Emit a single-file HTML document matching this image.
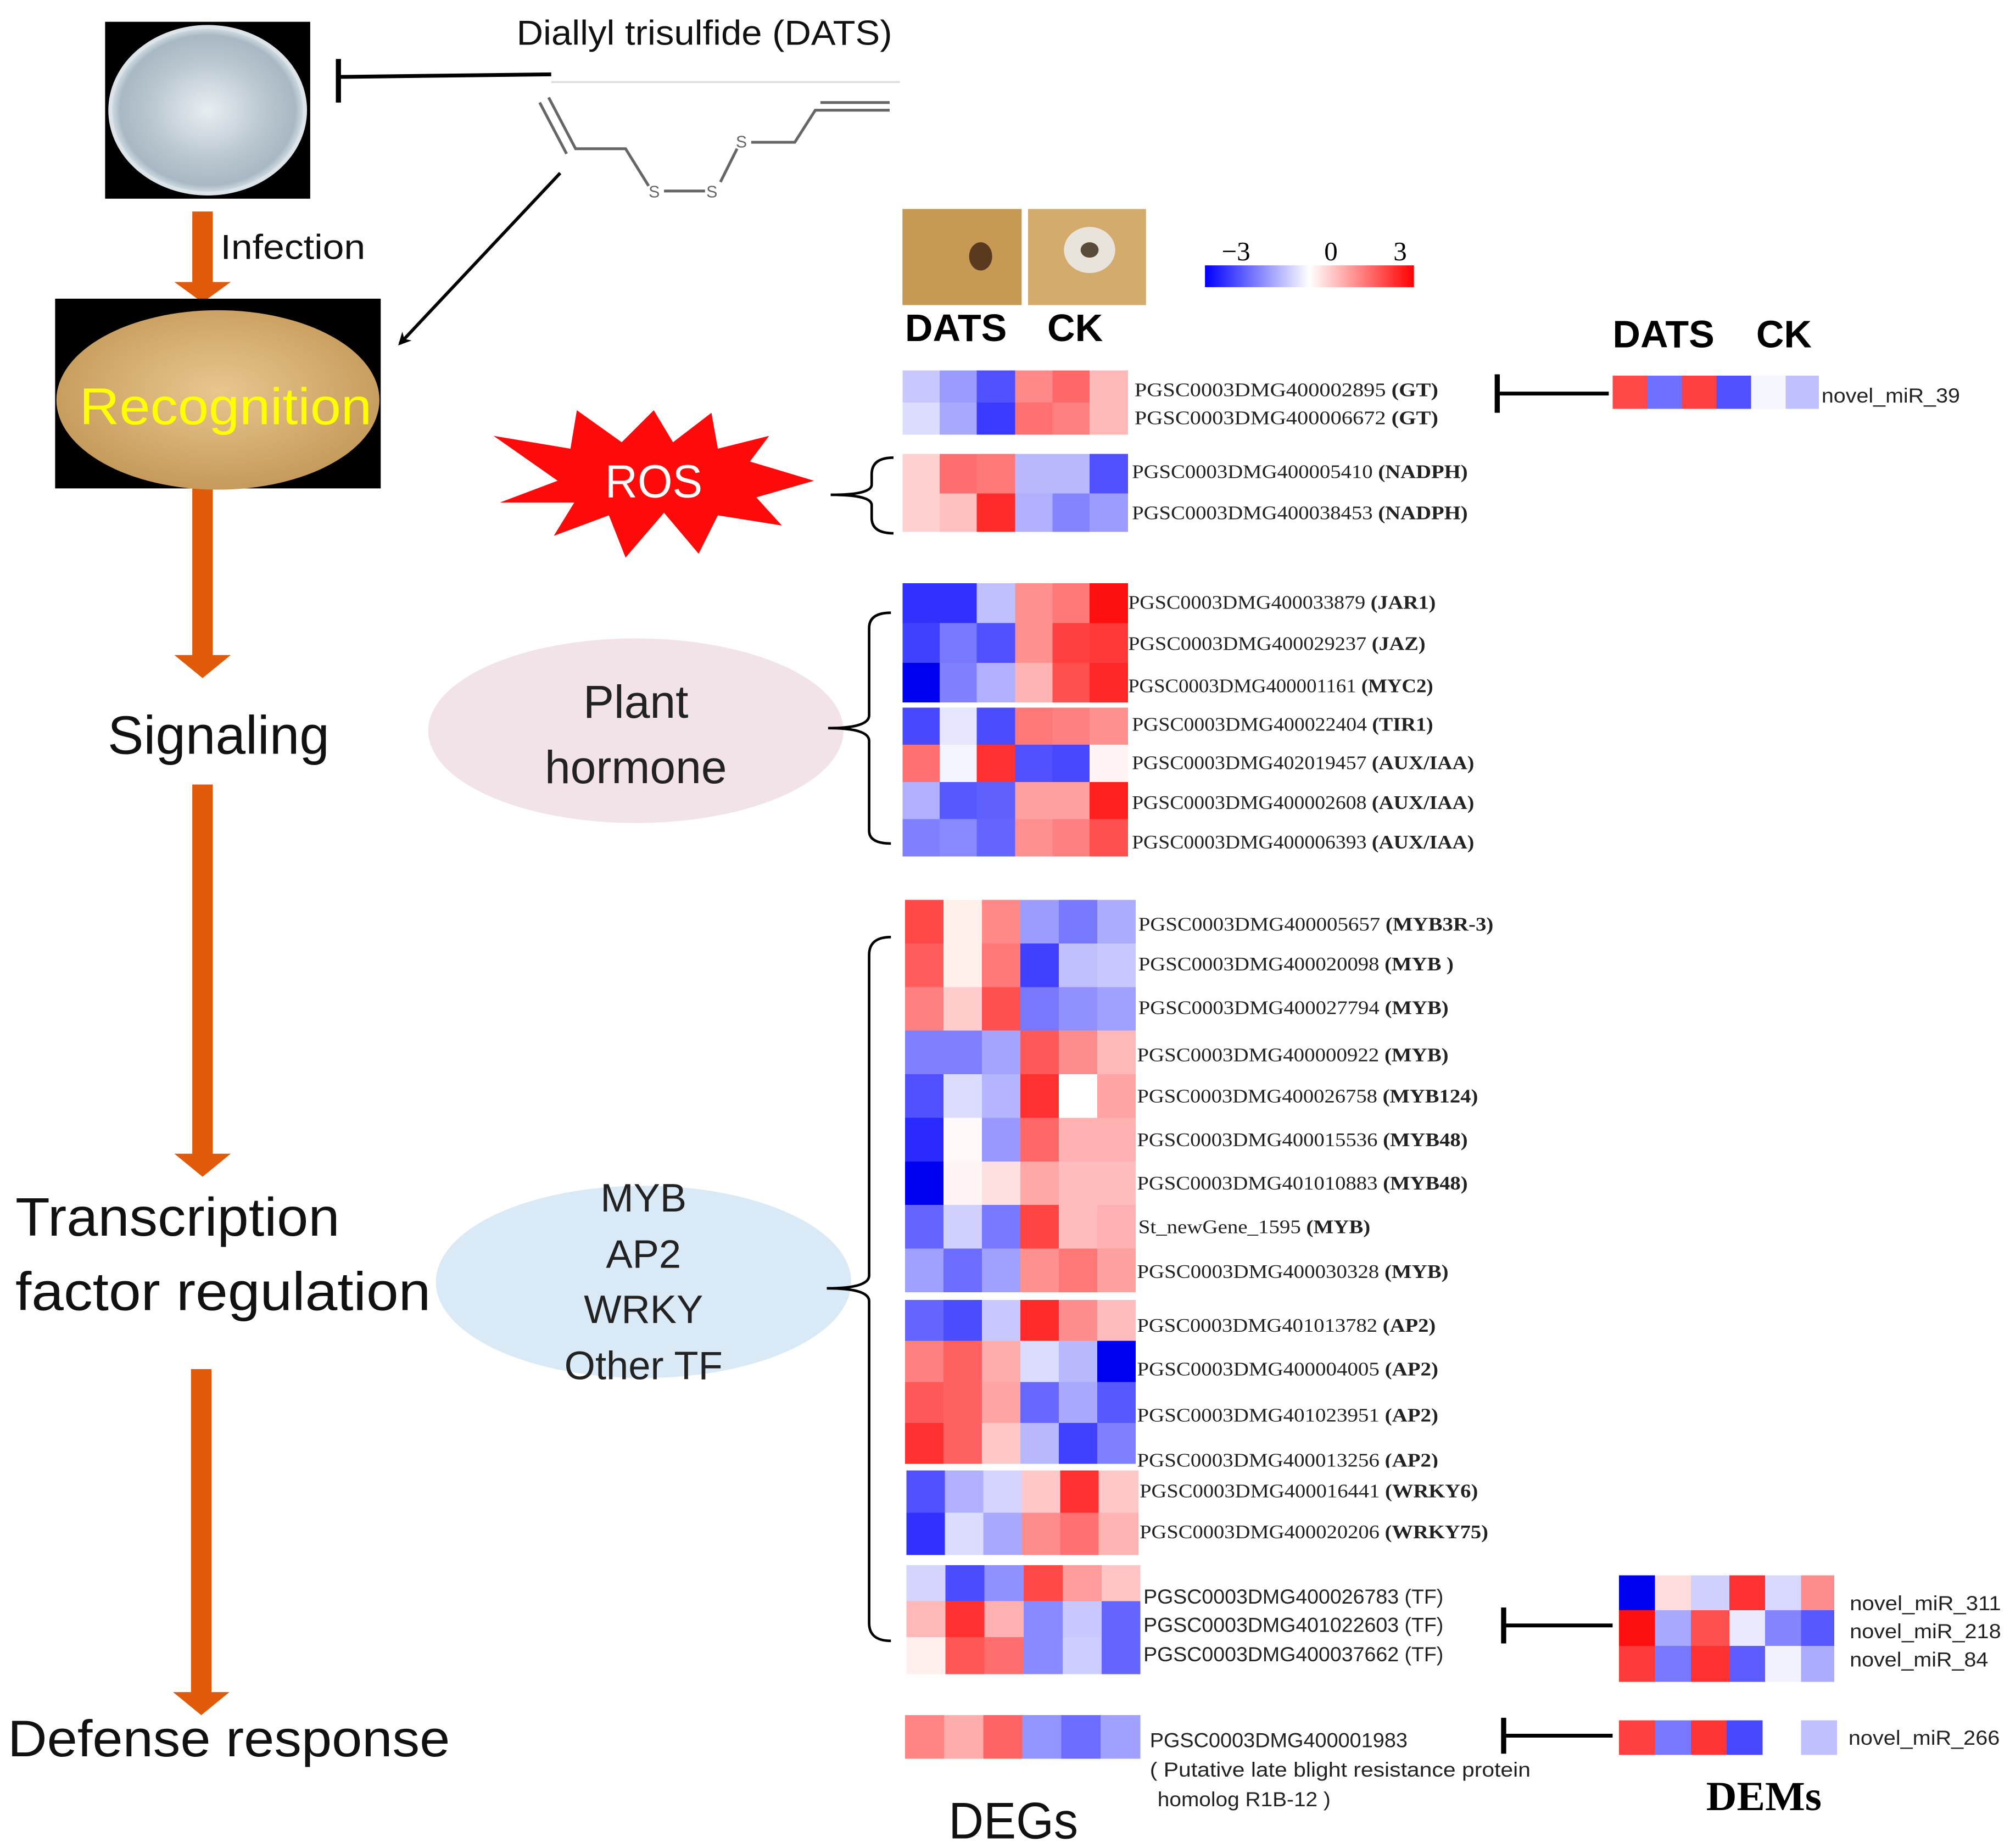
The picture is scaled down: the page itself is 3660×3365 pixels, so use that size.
<!DOCTYPE html>
<html><head><meta charset="utf-8"><style>html,body{margin:0;padding:0;background:#fff}svg{display:block}</style></head>
<body>
<svg width="3660" height="3365" viewBox="0 0 1568 1441.6" xmlns="http://www.w3.org/2000/svg" preserveAspectRatio="none">
<defs>
<linearGradient id="cb" x1="0" x2="1"><stop offset="0" stop-color="#0000ff"/><stop offset="0.5" stop-color="#ffffff"/><stop offset="1" stop-color="#ff0000"/></linearGradient>
<radialGradient id="dish" cx="0.5" cy="0.5" r="0.5"><stop offset="0" stop-color="#e8eef2"/><stop offset="0.6" stop-color="#b9c6cf"/><stop offset="0.9" stop-color="#a8b8c4"/><stop offset="1" stop-color="#d8e2e8"/></radialGradient>
<radialGradient id="pot" cx="0.5" cy="0.45" r="0.55"><stop offset="0" stop-color="#e9c68e"/><stop offset="1" stop-color="#c59a5a"/></radialGradient>
<marker id="ah" markerWidth="10" markerHeight="10" refX="8" refY="5" orient="auto" markerUnits="userSpaceOnUse"><path d="M0,0 L10,5 L0,10 L3,5 Z" fill="#000"/></marker>
</defs>
<rect width="1568" height="1442" fill="#fff"/>

<!-- petri dish -->
<rect x="82" y="17" width="160" height="138" fill="#000"/>
<ellipse cx="162" cy="86" rx="76" ry="65" fill="url(#dish)" stroke="#dce4ea" stroke-width="3"/>
<!-- orange arrows -->
<g fill="#e05a0a">
<path d="M150,165 h16 v55 h14 l-22,16 l-22,-16 h14 z"/>
<path d="M150,381 h16 v130 h14 l-22,18 l-22,-18 h14 z"/>
<path d="M150,612 h16 v288 h14 l-22,18 l-22,-18 h14 z"/>
<path d="M149,1068 h16 v252 h14 l-22,18 l-22,-18 h14 z"/>
</g>
<text x="172" y="202" font-family="Liberation Sans, sans-serif" font-size="27" fill="#111" textLength="113" lengthAdjust="spacingAndGlyphs">Infection</text>
<!-- potato -->
<rect x="43" y="233" width="254" height="148" fill="#000"/>
<ellipse cx="170" cy="312" rx="126" ry="70" fill="url(#pot)"/>
<text x="62" y="331" font-family="Liberation Sans, sans-serif" font-size="40" fill="#ffff00" textLength="228" lengthAdjust="spacingAndGlyphs">Recognition</text>
<g font-family="Liberation Sans, sans-serif" font-size="42" fill="#111">
<text x="84" y="588" textLength="173" lengthAdjust="spacingAndGlyphs">Signaling</text>
<text x="12" y="964" textLength="253" lengthAdjust="spacingAndGlyphs">Transcription</text>
<text x="12" y="1022" textLength="324" lengthAdjust="spacingAndGlyphs">factor regulation</text>
<text x="6" y="1370" font-size="40" textLength="345" lengthAdjust="spacingAndGlyphs">Defense response</text>
</g>

<!-- DATS -->
<text x="403" y="35" font-family="Liberation Sans, sans-serif" font-size="27" fill="#111" textLength="293" lengthAdjust="spacingAndGlyphs">Diallyl trisulfide (DATS)</text>
<line x1="264" y1="60" x2="430" y2="58" stroke="#000" stroke-width="3"/>
<line x1="264" y1="46" x2="264" y2="80" stroke="#000" stroke-width="4"/>
<line x1="430" y1="64" x2="702" y2="64" stroke="#ddd" stroke-width="1.5"/>
<g stroke="#666" stroke-width="2.2" fill="none">
<polyline points="428,76 449,116 488,116 506,145"/>
<line x1="421" y1="80" x2="442" y2="120"/>
<line x1="518" y1="149" x2="550" y2="149"/>
<line x1="562" y1="142" x2="575" y2="116"/>
<polyline points="586,111 620,111 636,86 694,86"/>
<line x1="640" y1="80" x2="694" y2="80"/>
</g>
<g font-family="Liberation Sans, sans-serif" font-size="13" fill="#666">
<text x="506" y="154">S</text><text x="551" y="154">S</text><text x="574" y="115">S</text>
</g>
<line x1="437" y1="135" x2="312" y2="268" stroke="#000" stroke-width="2.5" marker-end="url(#ah)"/>

<!-- ROS star -->
<polygon fill="#ff0a0a" points="385,340 445,350 450,320 485,345 510,320 525,345 555,322 560,350 600,340 585,360 635,375 590,388 610,410 560,402 545,432 518,400 488,435 475,402 432,418 448,392 390,392 435,375" />
<text x="472" y="388" font-family="Liberation Sans, sans-serif" font-size="36" fill="#fff" textLength="76" lengthAdjust="spacingAndGlyphs">ROS</text>
<!-- ellipses -->
<ellipse cx="496" cy="570" rx="162" ry="72" fill="#f1e3e8"/>
<text x="496" y="560" text-anchor="middle" font-family="Liberation Sans, sans-serif" font-size="36" fill="#222">Plant</text>
<text x="496" y="611" text-anchor="middle" font-family="Liberation Sans, sans-serif" font-size="36" fill="#222">hormone</text>
<ellipse cx="502" cy="1000" rx="162" ry="75" fill="#d9e9f6"/>
<g text-anchor="middle" font-family="Liberation Sans, sans-serif" font-size="31" fill="#222">
<text x="502" y="945">MYB</text><text x="502" y="989">AP2</text><text x="502" y="1032">WRKY</text><text x="502" y="1076">Other TF</text>
</g>
<!-- brackets -->
<g stroke="#000" stroke-width="2" fill="none">
<path d="M697,357 Q680,357 680,370 V378 Q680,386 648,386 Q680,386 680,394 V404 Q680,416 697,416"/>
<path d="M695,478 Q678,478 678,490 V558 Q678,568 646,568 Q678,568 678,578 V648 Q678,658 695,658"/>
<path d="M695,731 Q678,731 678,745 V995 Q678,1005 645,1005 Q678,1005 678,1015 V1266 Q678,1280 695,1280"/>
</g>

<!-- photos -->
<rect x="704" y="163" width="93" height="75" fill="#c69a55"/>
<ellipse cx="765" cy="200" rx="9" ry="11" fill="#5a3a1e"/>
<rect x="802" y="163" width="92" height="75" fill="#d2ab6d"/>
<ellipse cx="850" cy="195" rx="20" ry="18" fill="#e8e4dc"/>
<ellipse cx="850" cy="195" rx="7" ry="6" fill="#5a4a3a"/>
<g font-family="Liberation Sans, sans-serif" font-size="30" font-weight="bold" fill="#000">
<text x="706" y="266">DATS</text><text x="817" y="266">CK</text>
<text x="1258" y="271">DATS</text><text x="1370" y="271">CK</text>
</g>
<rect x="940" y="207" width="163" height="17" fill="url(#cb)"/>
<g font-family="Liberation Serif, serif" font-size="21" fill="#000">
<text x="953" y="203">−3</text><text x="1033" y="203">0</text><text x="1087" y="203">3</text>
</g>

<!-- heatmaps -->
<g shape-rendering="crispEdges">
<!-- GT -->
<g transform="translate(704,289)">
<rect x="0" width="30" height="25" fill="#c8c8ff"/><rect x="29" width="30" height="25" fill="#9a9aff"/><rect x="58" width="30" height="25" fill="#5050ff"/><rect x="88" width="30" height="25" fill="#ff8888"/><rect x="117" width="30" height="25" fill="#ff6868"/><rect x="146" width="30" height="25" fill="#ffb8b8"/>
<rect x="0" y="25" width="30" height="25" fill="#dcdcff"/><rect x="29" y="25" width="30" height="25" fill="#a8a8ff"/><rect x="58" y="25" width="30" height="25" fill="#3a3aff"/><rect x="88" y="25" width="30" height="25" fill="#ff7070"/><rect x="117" y="25" width="30" height="25" fill="#ff8080"/><rect x="146" y="25" width="30" height="25" fill="#ffb8b8"/>
</g>
<!-- NADPH -->
<g transform="translate(704,354)">
<rect x="0" width="30" height="31" fill="#ffd0d0"/><rect x="29" width="30" height="31" fill="#ff6e6e"/><rect x="58" width="30" height="31" fill="#ff7878"/><rect x="88" width="30" height="31" fill="#b8b8ff"/><rect x="117" width="30" height="31" fill="#b8b8ff"/><rect x="146" width="30" height="31" fill="#5050ff"/>
<rect x="0" y="31" width="30" height="30" fill="#ffd0d0"/><rect x="29" y="31" width="30" height="30" fill="#ffc0c0"/><rect x="58" y="31" width="30" height="30" fill="#ff2a2a"/><rect x="88" y="31" width="30" height="30" fill="#b0b0ff"/><rect x="117" y="31" width="30" height="30" fill="#8484ff"/><rect x="146" y="31" width="30" height="30" fill="#9c9cff"/>
</g>
<!-- JA -->
<g transform="translate(704,455)">
<rect x="0" width="30" height="31" fill="#3030ff"/><rect x="29" width="30" height="31" fill="#3030ff"/><rect x="58" width="30" height="31" fill="#c0c0ff"/><rect x="88" width="30" height="31" fill="#ff9090"/><rect x="117" width="30" height="31" fill="#ff7878"/><rect x="146" width="30" height="31" fill="#ff1010"/>
<rect x="0" y="31" width="30" height="31" fill="#4040ff"/><rect x="29" y="31" width="30" height="31" fill="#7878ff"/><rect x="58" y="31" width="30" height="31" fill="#5050ff"/><rect x="88" y="31" width="30" height="31" fill="#ff9090"/><rect x="117" y="31" width="30" height="31" fill="#ff4040"/><rect x="146" y="31" width="30" height="31" fill="#ff3838"/>
<rect x="0" y="62" width="30" height="31" fill="#0000f0"/><rect x="29" y="62" width="30" height="31" fill="#8080ff"/><rect x="58" y="62" width="30" height="31" fill="#b0b0ff"/><rect x="88" y="62" width="30" height="31" fill="#ffb4b4"/><rect x="117" y="62" width="30" height="31" fill="#ff5050"/><rect x="146" y="62" width="30" height="31" fill="#ff2828"/>
</g>
<g transform="translate(704,552)">
<rect x="0" width="30" height="29" fill="#4848ff"/><rect x="29" width="30" height="29" fill="#e6e6ff"/><rect x="58" width="30" height="29" fill="#4c4cff"/><rect x="88" width="30" height="29" fill="#ff7878"/><rect x="117" width="30" height="29" fill="#ff8080"/><rect x="146" width="30" height="29" fill="#ff9090"/>
<rect x="0" y="29" width="30" height="29" fill="#ff7070"/><rect x="29" y="29" width="30" height="29" fill="#f4f4ff"/><rect x="58" y="29" width="30" height="29" fill="#ff3030"/><rect x="88" y="29" width="30" height="29" fill="#5050ff"/><rect x="117" y="29" width="30" height="29" fill="#4848ff"/><rect x="146" y="29" width="30" height="29" fill="#fff4f4"/>
<rect x="0" y="58" width="30" height="29" fill="#b0b0ff"/><rect x="29" y="58" width="30" height="29" fill="#5858ff"/><rect x="58" y="58" width="30" height="29" fill="#6060ff"/><rect x="88" y="58" width="30" height="29" fill="#ffa0a0"/><rect x="117" y="58" width="30" height="29" fill="#ffa0a0"/><rect x="146" y="58" width="30" height="29" fill="#ff2020"/>
<rect x="0" y="87" width="30" height="29" fill="#8080ff"/><rect x="29" y="87" width="30" height="29" fill="#8888ff"/><rect x="58" y="87" width="30" height="29" fill="#6464ff"/><rect x="88" y="87" width="30" height="29" fill="#ff9090"/><rect x="117" y="87" width="30" height="29" fill="#ff8080"/><rect x="146" y="87" width="30" height="29" fill="#ff5050"/>
</g>
<!-- MYB -->
<g transform="translate(706,702)">
<rect x="0" y="0" width="30" height="34" fill="#ff4848"/><rect x="30" y="0" width="30" height="34" fill="#fff0ec"/><rect x="60" y="0" width="30" height="34" fill="#ff8888"/><rect x="90" y="0" width="30" height="34" fill="#9c9cff"/><rect x="120" y="0" width="30" height="34" fill="#7878ff"/><rect x="150" y="0" width="30" height="34" fill="#acacff"/>
<rect x="0" y="34" width="30" height="34" fill="#ff5c5c"/><rect x="30" y="34" width="30" height="34" fill="#fff0ec"/><rect x="60" y="34" width="30" height="34" fill="#ff7878"/><rect x="90" y="34" width="30" height="34" fill="#4040ff"/><rect x="120" y="34" width="30" height="34" fill="#c0c0ff"/><rect x="150" y="34" width="30" height="34" fill="#c8c8ff"/>
<rect x="0" y="68" width="30" height="34" fill="#ff8080"/><rect x="30" y="68" width="30" height="34" fill="#ffcccc"/><rect x="60" y="68" width="30" height="34" fill="#ff5050"/><rect x="90" y="68" width="30" height="34" fill="#7878ff"/><rect x="120" y="68" width="30" height="34" fill="#9090ff"/><rect x="150" y="68" width="30" height="34" fill="#a0a0ff"/>
<rect x="0" y="102" width="30" height="34" fill="#8080ff"/><rect x="30" y="102" width="30" height="34" fill="#8080ff"/><rect x="60" y="102" width="30" height="34" fill="#a4a4ff"/><rect x="90" y="102" width="30" height="34" fill="#ff5858"/><rect x="120" y="102" width="30" height="34" fill="#ff8c8c"/><rect x="150" y="102" width="30" height="34" fill="#ffb8b8"/>
<rect x="0" y="136" width="30" height="34" fill="#5050ff"/><rect x="30" y="136" width="30" height="34" fill="#dcdcff"/><rect x="60" y="136" width="30" height="34" fill="#b4b4ff"/><rect x="90" y="136" width="30" height="34" fill="#ff3030"/><rect x="120" y="136" width="30" height="34" fill="#ffffff"/><rect x="150" y="136" width="30" height="34" fill="#ffa4a4"/>
<rect x="0" y="170" width="30" height="34" fill="#2828ff"/><rect x="30" y="170" width="30" height="34" fill="#fff8f8"/><rect x="60" y="170" width="30" height="34" fill="#9898ff"/><rect x="90" y="170" width="30" height="34" fill="#ff6868"/><rect x="120" y="170" width="30" height="34" fill="#ffb0b0"/><rect x="150" y="170" width="30" height="34" fill="#ffb0b0"/>
<rect x="0" y="204" width="30" height="34" fill="#0000f0"/><rect x="30" y="204" width="30" height="34" fill="#fff4f4"/><rect x="60" y="204" width="30" height="34" fill="#ffe0e0"/><rect x="90" y="204" width="30" height="34" fill="#ffa8a8"/><rect x="120" y="204" width="30" height="34" fill="#ffbcbc"/><rect x="150" y="204" width="30" height="34" fill="#ffbcbc"/>
<rect x="0" y="238" width="30" height="34" fill="#6464ff"/><rect x="30" y="238" width="30" height="34" fill="#d0d0ff"/><rect x="60" y="238" width="30" height="34" fill="#7878ff"/><rect x="90" y="238" width="30" height="34" fill="#ff4444"/><rect x="120" y="238" width="30" height="34" fill="#ffbcbc"/><rect x="150" y="238" width="30" height="34" fill="#ffb0b0"/>
<rect x="0" y="272" width="30" height="34" fill="#a0a0ff"/><rect x="30" y="272" width="30" height="34" fill="#6c6cff"/><rect x="60" y="272" width="30" height="34" fill="#a0a0ff"/><rect x="90" y="272" width="30" height="34" fill="#ff9090"/><rect x="120" y="272" width="30" height="34" fill="#ff7878"/><rect x="150" y="272" width="30" height="34" fill="#ffa0a0"/>
</g>
<!-- AP2 -->
<g transform="translate(706,1014)">
<rect x="0" y="0" width="30" height="32" fill="#6464ff"/><rect x="30" y="0" width="30" height="32" fill="#4c4cff"/><rect x="60" y="0" width="30" height="32" fill="#c8c8ff"/><rect x="90" y="0" width="30" height="32" fill="#ff2a2a"/><rect x="120" y="0" width="30" height="32" fill="#ff8c8c"/><rect x="150" y="0" width="30" height="32" fill="#ffbcbc"/>
<rect x="0" y="32" width="30" height="32" fill="#ff8080"/><rect x="30" y="32" width="30" height="32" fill="#ff6060"/><rect x="60" y="32" width="30" height="32" fill="#ffacac"/><rect x="90" y="32" width="30" height="32" fill="#dcdcff"/><rect x="120" y="32" width="30" height="32" fill="#b8b8ff"/><rect x="150" y="32" width="30" height="32" fill="#0000f0"/>
<rect x="0" y="64" width="30" height="32" fill="#ff5858"/><rect x="30" y="64" width="30" height="32" fill="#ff6060"/><rect x="60" y="64" width="30" height="32" fill="#ffa4a4"/><rect x="90" y="64" width="30" height="32" fill="#6868ff"/><rect x="120" y="64" width="30" height="32" fill="#a8a8ff"/><rect x="150" y="64" width="30" height="32" fill="#5858ff"/>
<rect x="0" y="96" width="30" height="32" fill="#ff3030"/><rect x="30" y="96" width="30" height="32" fill="#ff6060"/><rect x="60" y="96" width="30" height="32" fill="#ffc8c8"/><rect x="90" y="96" width="30" height="32" fill="#b8b8ff"/><rect x="120" y="96" width="30" height="32" fill="#4040ff"/><rect x="150" y="96" width="30" height="32" fill="#8080ff"/>
</g>
<!-- WRKY -->
<g transform="translate(707,1147)">
<rect x="0" y="0" width="31" height="33" fill="#5050ff"/><rect x="30" y="0" width="31" height="33" fill="#b0b0ff"/><rect x="60" y="0" width="31" height="33" fill="#d4d4ff"/><rect x="90" y="0" width="31" height="33" fill="#ffc8c8"/><rect x="120" y="0" width="31" height="33" fill="#ff3030"/><rect x="150" y="0" width="31" height="33" fill="#ffc8c8"/>
<rect x="0" y="33" width="31" height="33" fill="#3030ff"/><rect x="30" y="33" width="31" height="33" fill="#dcdcff"/><rect x="60" y="33" width="31" height="33" fill="#a8a8ff"/><rect x="90" y="33" width="31" height="33" fill="#ff8c8c"/><rect x="120" y="33" width="31" height="33" fill="#ff7070"/><rect x="150" y="33" width="31" height="33" fill="#ffb4b4"/>
</g>
<!-- TF -->
<g transform="translate(707,1221)">
<rect x="0" y="0" width="31" height="28" fill="#d4d4ff"/><rect x="30.5" y="0" width="31" height="28" fill="#4c4cff"/><rect x="61" y="0" width="31" height="28" fill="#9090ff"/><rect x="91.5" y="0" width="31" height="28" fill="#ff4848"/><rect x="122" y="0" width="31" height="28" fill="#ff9c9c"/><rect x="152.5" y="0" width="30" height="28" fill="#ffc4c4"/>
<rect x="0" y="28" width="31" height="28" fill="#ffb8b8"/><rect x="30.5" y="28" width="31" height="28" fill="#ff3030"/><rect x="61" y="28" width="31" height="28" fill="#ffb0b0"/><rect x="91.5" y="28" width="31" height="28" fill="#8888ff"/><rect x="122" y="28" width="31" height="28" fill="#c8c8ff"/><rect x="152.5" y="28" width="30" height="28" fill="#6464ff"/>
<rect x="0" y="56" width="31" height="29" fill="#fff0ee"/><rect x="30.5" y="56" width="31" height="29" fill="#ff5656"/><rect x="61" y="56" width="31" height="29" fill="#ff6e6e"/><rect x="91.5" y="56" width="31" height="29" fill="#8888ff"/><rect x="122" y="56" width="31" height="29" fill="#ccccff"/><rect x="152.5" y="56" width="30" height="29" fill="#6464ff"/>
</g>
<!-- R1B -->
<g transform="translate(706,1338)">
<rect x="0" width="31" height="34" fill="#ff8484"/><rect x="30.5" width="31" height="34" fill="#ffacac"/><rect x="61" width="31" height="34" fill="#ff6464"/><rect x="91.5" width="31" height="34" fill="#9494ff"/><rect x="122" width="31" height="34" fill="#6c6cff"/><rect x="152.5" width="31" height="34" fill="#a0a0ff"/>
</g>
<!-- DEMs -->
<g transform="translate(1258,293)">
<rect x="0" width="27" height="26" fill="#ff4848"/><rect x="27" width="27" height="26" fill="#7070ff"/><rect x="54" width="27" height="26" fill="#ff4040"/><rect x="81" width="27" height="26" fill="#5050ff"/><rect x="108" width="27" height="26" fill="#f6f6ff"/><rect x="135" width="26" height="26" fill="#c0c0ff"/>
</g>
<g transform="translate(1263,1229)">
<rect x="0" y="0" width="28" height="27" fill="#0000f0"/><rect x="28" y="0" width="28" height="27" fill="#ffdcdc"/><rect x="56" y="0" width="30" height="27" fill="#d0d0ff"/><rect x="86" y="0" width="28" height="27" fill="#ff3030"/><rect x="114" y="0" width="28" height="27" fill="#d8d8ff"/><rect x="142" y="0" width="26" height="27" fill="#ff8c8c"/>
<rect x="0" y="27" width="28" height="28" fill="#ff1010"/><rect x="28" y="27" width="28" height="28" fill="#a8a8ff"/><rect x="56" y="27" width="30" height="28" fill="#ff5050"/><rect x="86" y="27" width="28" height="28" fill="#eaeaff"/><rect x="114" y="27" width="28" height="28" fill="#8484ff"/><rect x="142" y="27" width="26" height="28" fill="#5858ff"/>
<rect x="0" y="55" width="28" height="28" fill="#ff3a3a"/><rect x="28" y="55" width="28" height="28" fill="#7878ff"/><rect x="56" y="55" width="30" height="28" fill="#ff3030"/><rect x="86" y="55" width="28" height="28" fill="#5c5cff"/><rect x="114" y="55" width="28" height="28" fill="#f2f2ff"/><rect x="142" y="55" width="26" height="28" fill="#acacff"/>
</g>
<g transform="translate(1263,1342)">
<rect x="0" width="28" height="27" fill="#ff4040"/><rect x="28" width="28" height="27" fill="#7878ff"/><rect x="56" width="28" height="27" fill="#ff3434"/><rect x="84" width="28" height="27" fill="#4848ff"/><rect x="142" width="28" height="27" fill="#c0c0ff"/>
</g>
</g>

<!-- inhibitors -->
<g stroke="#000" stroke-width="3">
<line x1="1168" y1="307" x2="1255" y2="307"/><line x1="1168" y1="292" x2="1168" y2="322" stroke-width="4"/>
<line x1="1173" y1="1268" x2="1258" y2="1268"/><line x1="1173" y1="1254" x2="1173" y2="1282" stroke-width="4"/>
<line x1="1173" y1="1354" x2="1258" y2="1354"/><line x1="1173" y1="1340" x2="1173" y2="1368" stroke-width="4"/>
</g>

<!-- gene labels serif -->
<g font-family="Liberation Serif, serif" font-size="15" fill="#222" lengthAdjust="spacingAndGlyphs">
<text x="885" y="309" textLength="237" lengthAdjust="spacingAndGlyphs">PGSC0003DMG400002895 <tspan font-weight="bold">(GT)</tspan></text>
<text x="885" y="331" textLength="237" lengthAdjust="spacingAndGlyphs">PGSC0003DMG400006672 <tspan font-weight="bold">(GT)</tspan></text>
<text x="883" y="373" textLength="262" lengthAdjust="spacingAndGlyphs">PGSC0003DMG400005410  <tspan font-weight="bold">(NADPH)</tspan></text>
<text x="883" y="405" textLength="262" lengthAdjust="spacingAndGlyphs">PGSC0003DMG400038453  <tspan font-weight="bold">(NADPH)</tspan></text>
<text x="880" y="475" textLength="240" lengthAdjust="spacingAndGlyphs">PGSC0003DMG400033879 <tspan font-weight="bold">(JAR1)</tspan></text>
<text x="880" y="507" textLength="232" lengthAdjust="spacingAndGlyphs">PGSC0003DMG400029237 <tspan font-weight="bold">(JAZ)</tspan></text>
<text x="880" y="540" textLength="238" lengthAdjust="spacingAndGlyphs">PGSC0003DMG400001161 <tspan font-weight="bold">(MYC2)</tspan></text>
<text x="883" y="570" textLength="235" lengthAdjust="spacingAndGlyphs">PGSC0003DMG400022404 <tspan font-weight="bold">(TIR1)</tspan></text>
<text x="883" y="600" textLength="267" lengthAdjust="spacingAndGlyphs">PGSC0003DMG402019457 <tspan font-weight="bold">(AUX/IAA)</tspan></text>
<text x="883" y="631" textLength="267" lengthAdjust="spacingAndGlyphs">PGSC0003DMG400002608 <tspan font-weight="bold">(AUX/IAA)</tspan></text>
<text x="883" y="662" textLength="267" lengthAdjust="spacingAndGlyphs">PGSC0003DMG400006393 <tspan font-weight="bold">(AUX/IAA)</tspan></text>
<text x="888" y="726" textLength="277" lengthAdjust="spacingAndGlyphs">PGSC0003DMG400005657 <tspan font-weight="bold">(MYB3R-3)</tspan></text>
<text x="888" y="757" textLength="246" lengthAdjust="spacingAndGlyphs">PGSC0003DMG400020098 <tspan font-weight="bold">(MYB )</tspan></text>
<text x="888" y="791" textLength="242" lengthAdjust="spacingAndGlyphs">PGSC0003DMG400027794 <tspan font-weight="bold">(MYB)</tspan></text>
<text x="887" y="828" textLength="243" lengthAdjust="spacingAndGlyphs">PGSC0003DMG400000922 <tspan font-weight="bold">(MYB)</tspan></text>
<text x="887" y="860" textLength="266" lengthAdjust="spacingAndGlyphs">PGSC0003DMG400026758 <tspan font-weight="bold">(MYB124)</tspan></text>
<text x="887" y="894" textLength="258" lengthAdjust="spacingAndGlyphs">PGSC0003DMG400015536 <tspan font-weight="bold">(MYB48)</tspan></text>
<text x="887" y="928" textLength="258" lengthAdjust="spacingAndGlyphs">PGSC0003DMG401010883 <tspan font-weight="bold">(MYB48)</tspan></text>
<text x="888" y="962" textLength="181" lengthAdjust="spacingAndGlyphs">St_newGene_1595 <tspan font-weight="bold">(MYB)</tspan></text>
<text x="887" y="997" textLength="243" lengthAdjust="spacingAndGlyphs">PGSC0003DMG400030328 <tspan font-weight="bold">(MYB)</tspan></text>
<text x="887" y="1039" textLength="233" lengthAdjust="spacingAndGlyphs">PGSC0003DMG401013782 <tspan font-weight="bold">(AP2)</tspan></text>
<text x="887" y="1073" textLength="235" lengthAdjust="spacingAndGlyphs">PGSC0003DMG400004005 <tspan font-weight="bold">(AP2)</tspan></text>
<text x="887" y="1109" textLength="235" lengthAdjust="spacingAndGlyphs">PGSC0003DMG401023951 <tspan font-weight="bold">(AP2)</tspan></text>
<text x="887" y="1144" textLength="235" lengthAdjust="spacingAndGlyphs">PGSC0003DMG400013256 <tspan font-weight="bold">(AP2)</tspan></text>
<text x="889" y="1168" textLength="264" lengthAdjust="spacingAndGlyphs">PGSC0003DMG400016441 <tspan font-weight="bold">(WRKY6)</tspan></text>
<text x="889" y="1200" textLength="272" lengthAdjust="spacingAndGlyphs">PGSC0003DMG400020206 <tspan font-weight="bold">(WRKY75)</tspan></text>
</g>
<rect x="880" y="1145" width="300" height="2" fill="#fff"/>
<g font-family="Liberation Sans, sans-serif" font-size="16" fill="#222">
<text x="892" y="1251" textLength="234" lengthAdjust="spacingAndGlyphs">PGSC0003DMG400026783 (TF)</text>
<text x="892" y="1273" textLength="234" lengthAdjust="spacingAndGlyphs">PGSC0003DMG401022603 (TF)</text>
<text x="892" y="1296" textLength="234" lengthAdjust="spacingAndGlyphs">PGSC0003DMG400037662 (TF)</text>
<text x="897" y="1363" textLength="201" lengthAdjust="spacingAndGlyphs">PGSC0003DMG400001983</text>
<text x="897" y="1386" textLength="297" lengthAdjust="spacingAndGlyphs">( Putative late blight resistance protein</text>
<text x="903" y="1409" textLength="135" lengthAdjust="spacingAndGlyphs">homolog R1B-12 )</text>
<text x="1421" y="314" textLength="108" lengthAdjust="spacingAndGlyphs">novel_miR_39</text>
<text x="1443" y="1256" textLength="118" lengthAdjust="spacingAndGlyphs">novel_miR_311</text>
<text x="1443" y="1278" textLength="118" lengthAdjust="spacingAndGlyphs">novel_miR_218</text>
<text x="1443" y="1300" textLength="108" lengthAdjust="spacingAndGlyphs">novel_miR_84</text>
<text x="1442" y="1361" textLength="118" lengthAdjust="spacingAndGlyphs">novel_miR_266</text>
</g>
<text x="740" y="1434" font-family="Liberation Sans, sans-serif" font-size="40" fill="#111" textLength="101" lengthAdjust="spacingAndGlyphs">DEGs</text>
<text x="1331" y="1412" font-family="Liberation Serif, serif" font-size="32" font-weight="bold" fill="#000" textLength="90" lengthAdjust="spacingAndGlyphs">DEMs</text>
</svg>
</body></html>
